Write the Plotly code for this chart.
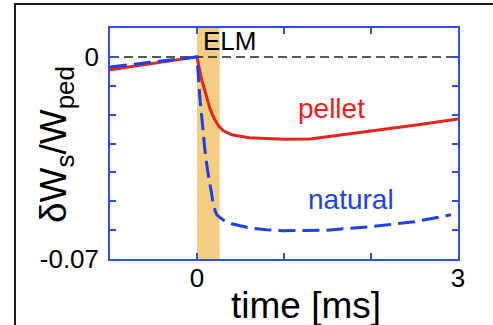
import plotly.graph_objects as go

# Time axis (ms) and normalised pedestal energy change for the two ELM types
t_pellet = [-1.0, 0.0, 0.05, 0.1, 0.15, 0.2, 0.25, 0.3, 0.4, 0.6, 1.0, 1.3, 2.0, 2.5, 3.0]
dw_pellet = [-0.0045, 0.0, -0.0075, -0.013, -0.018, -0.0215, -0.024, -0.0255, -0.027,
             -0.028, -0.0285, -0.0284, -0.0257, -0.0237, -0.0215]

t_natural = [-1.0, 0.0, 0.03, 0.06, 0.09, 0.12, 0.15, 0.18, 0.21, 0.23, 0.3, 0.4, 0.6,
             0.8, 1.0, 1.5, 2.0, 2.5, 2.92]
dw_natural = [-0.0035, 0.0, -0.013, -0.024, -0.032, -0.039, -0.045, -0.0496, -0.0535,
              -0.0548, -0.0565, -0.0578, -0.0592, -0.0599, -0.0602, -0.0600, -0.0588,
              -0.0571, -0.0547]

elm_window = [0.0, 0.26]
x_range = [-1, 3]
y_range = [-0.07, 0.01]
x_labelled = [0, 3]
x_minor = [-1, 1, 2]
y_labelled = [-0.07, 0.0]
y_minor = [-0.06, -0.05, -0.04, -0.03, -0.02, -0.01, 0.01]

FONT = "Liberation Sans, Arial, Helvetica, sans-serif"
AXIS_BLUE = "#2f4fe0"
RED = "#e8231c"
BLUE = "#1c40e2"

fig = go.Figure()

# zero reference line
fig.add_trace(go.Scatter(x=x_range, y=[0, 0], mode="lines",
                         line=dict(color="#222222", width=1.5, dash="9px,5px"),
                         hoverinfo="skip", showlegend=False))
fig.add_trace(go.Scatter(x=t_pellet, y=dw_pellet, mode="lines",
                         line=dict(color=RED, width=3), showlegend=False))
fig.add_trace(go.Scatter(x=t_natural, y=dw_natural, mode="lines",
                         line=dict(color=BLUE, width=3, dash="17px,7px"), showlegend=False))

# ELM window
fig.add_shape(type="rect", xref="x", yref="paper", x0=elm_window[0], x1=elm_window[1],
              y0=0, y1=1, fillcolor="#f3cd82", line_width=0, layer="below")

# outer frame (left and top edges)
fig.add_shape(type="path", xref="paper", yref="paper",
              path="M -0.273,-0.4 L -0.273,1.104 L 1.2,1.104",
              line=dict(color="#1a1a1a", width=2))

fig.add_annotation(text="ELM", x=0.045, y=0.944, xref="x", yref="paper",
                   xanchor="left", yanchor="middle", showarrow=False,
                   font=dict(family=FONT, size=26, color="black"))
fig.add_annotation(text="pellet", x=1.55, y=-0.0178, xref="x", yref="y",
                   showarrow=False, font=dict(family=FONT, size=28, color=RED))
fig.add_annotation(text="natural", x=1.77, y=-0.0495, xref="x", yref="y",
                   showarrow=False, font=dict(family=FONT, size=28, color="#2142e0"))

# axis titles
fig.add_annotation(text="δW<sub>s</sub>/W<sub>ped</sub>", x=-0.155, y=0.4935,
                   xref="paper", yref="paper", textangle=-90, showarrow=False,
                   xanchor="center", yanchor="middle",
                   font=dict(family=FONT, size=37, color="black"))
fig.add_annotation(text="time [ms]", x=0.563, y=-0.2, xref="paper", yref="paper",
                   showarrow=False, xanchor="center", yanchor="middle",
                   font=dict(family=FONT, size=37, color="black"))

tick_style = dict(ticks="inside", ticklen=6, tickwidth=1.5, tickcolor=AXIS_BLUE)
axis_common = dict(showline=True, linecolor=AXIS_BLUE, linewidth=1.5, mirror="ticks",
                   showgrid=False, zeroline=False,
                   tickfont=dict(family=FONT, size=26, color="black"), **tick_style)

fig.update_xaxes(range=x_range, tickmode="array", tickvals=x_labelled,
                 ticktext=[str(v) for v in x_labelled],
                 minor=dict(tickvals=x_minor, showgrid=False, **tick_style),
                 ticklabelstandoff=-5, **axis_common)
fig.update_yaxes(range=y_range, tickmode="array", tickvals=y_labelled,
                 ticktext=["-0.07", "0"],
                 minor=dict(tickvals=y_minor, showgrid=False, **tick_style),
                 ticklabelstandoff=4, **axis_common)

fig.update_layout(width=493, height=325, margin=dict(l=110, r=35, t=28, b=66),
                  paper_bgcolor="white", plot_bgcolor="white",
                  font=dict(family=FONT), showlegend=False)

fig.write_html("out.html")
